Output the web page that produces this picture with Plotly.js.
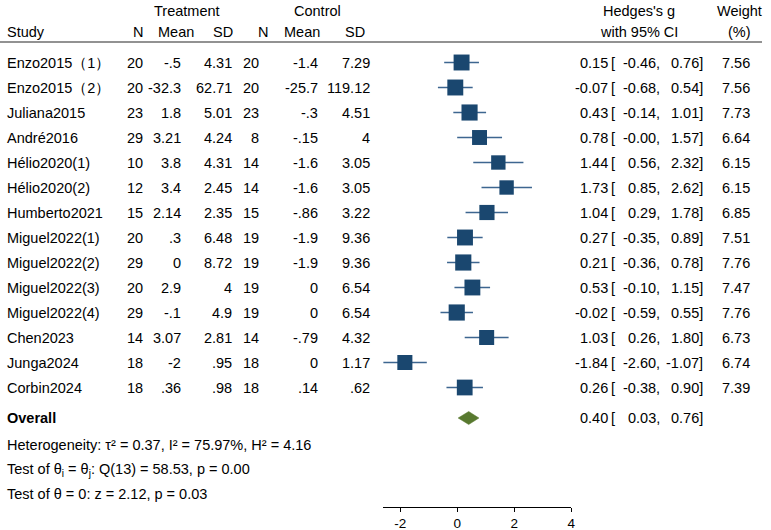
<!DOCTYPE html>
<html>
<head>
<meta charset="utf-8">
<script src="https://cdn.plot.ly/plotly-3.0.1.min.js"></script>
<style>html,body{margin:0;padding:0;background:#fff;}</style>
</head>
<body>
<div id="chart" style="width:771px;height:530px;"></div>
<script>
// ---- data ----
const studies = ["Enzo2015（1）","Enzo2015（2）","Juliana2015","André2016","Hélio2020(1)","Hélio2020(2)","Humberto2021","Miguel2022(1)","Miguel2022(2)","Miguel2022(3)","Miguel2022(4)","Chen2023","Junga2024","Corbin2024"];
const trtN    = ["20","20","23","29","10","12","15","20","29","20","29","14","18","18"];
const trtMean = ["-.5","-32.3","1.8","3.21","3.8","3.4","2.14",".3","0","2.9","-.1","3.07","-2",".36"];
const trtSD   = ["4.31","62.71","5.01","4.24","4.31","2.45","2.35","6.48","8.72","4","4.9","2.81",".95",".98"];
const ctlN    = ["20","20","23","8","14","14","15","19","19","19","19","14","18","18"];
const ctlMean = ["-1.4","-25.7","-.3","-.15","-1.6","-1.6","-.86","-1.9","-1.9","0","0","-.79","0",".14"];
const ctlSD   = ["7.29","119.12","4.51","4","3.05","3.05","3.22","9.36","9.36","6.54","6.54","4.32","1.17",".62"];
const effect  = [0.15,-0.07,0.43,0.78,1.44,1.73,1.04,0.27,0.21,0.53,-0.02,1.03,-1.84,0.26];
const ciLow   = [-0.46,-0.68,-0.14,-0.004,0.56,0.85,0.29,-0.35,-0.36,-0.10,-0.59,0.26,-2.60,-0.38];
const ciHigh  = [0.76,0.54,1.01,1.57,2.32,2.62,1.78,0.89,0.78,1.15,0.55,1.80,-1.07,0.90];
const weight  = [7.56,7.56,7.73,6.64,6.15,6.15,6.85,7.51,7.76,7.47,7.76,6.73,6.74,7.39];
const overallEffect = 0.40, overallLow = 0.03, overallHigh = 0.76;
const hetText = "Heterogeneity: τ² = 0.37, I² = 75.97%, H² = 4.16";
const qText = "Test of θ<sub>i</sub> = θ<sub>j</sub>: Q(13) = 58.53, p = 0.00";
const zText = "Test of θ = 0: z = 2.12, p = 0.03";
const tickVals = [-2,0,2,4];
const tickText = ["-2","0","2","4"];

// ---- layout helpers ----
const FONT = {family:"Liberation Sans, Arial, Helvetica, sans-serif", size:14.5, color:"#000"};
const rows = studies.map((_, i) => i);
const yOverall = 14.22, yHet = 15.3, yQ = 16.3, yZ = 17.26;
const yHead1 = -2.08, yHead2 = -1.22, yLine = -0.82;

const ann = [];
function addText(x, y, text, anchor, bold) {
  ann.push({xref:"x2", yref:"y", x:x, y:y, text: bold ? "<b>"+text+"</b>" : text,
    xanchor:anchor, yanchor:"middle", showarrow:false, borderpad:0, borderwidth:0,
    font:FONT});
}
// headers
addText(187, yHead1, "Treatment", "center");
addText(317, yHead1, "Control", "center");
addText(639, yHead1, "Hedges's g", "center");
addText(739, yHead1, "Weight", "center");
addText(7, yHead2, "Study", "left");
addText(138, yHead2, "N", "center");
addText(176, yHead2, "Mean", "center");
addText(223, yHead2, "SD", "center");
addText(263, yHead2, "N", "center");
addText(302, yHead2, "Mean", "center");
addText(355, yHead2, "SD", "center");
addText(639, yHead2, "with 95% CI", "center");
addText(739, yHead2, "(%)", "center");

const cols = [[trtN,143],[trtMean,181],[trtSD,232],[ctlN,259],[ctlMean,318],[ctlSD,370]];
rows.forEach(i => {
  addText(7, i, studies[i], "left");
  cols.forEach(([arr, x]) => addText(x, i, arr[i], "right"));
  addText(608, i, effect[i].toFixed(2), "right");
  addText(611, i, "[", "left");
  addText(660, i, ciLow[i].toFixed(2) + ",", "right");
  addText(703, i, ciHigh[i].toFixed(2) + "]", "right");
  addText(750, i, weight[i].toFixed(2), "right");
});
addText(7, yOverall, "Overall", "left", true);
addText(608, yOverall, overallEffect.toFixed(2), "right");
addText(611, yOverall, "[", "left");
addText(660, yOverall, overallLow.toFixed(2) + ",", "right");
addText(703, yOverall, overallHigh.toFixed(2) + "]", "right");
addText(7, yHet, hetText, "left");
addText(7, yQ, qText, "left");
addText(7, yZ, zText, "left");

// ---- traces ----
const studyTrace = {
  type:"scatter", mode:"markers", xaxis:"x", yaxis:"y",
  x: effect, y: rows,
  marker:{symbol:"square", color:"#1a476f", opacity:1, size: weight.map(w => 5.8*Math.sqrt(w)), line:{width:0}},
  error_x:{type:"data", symmetric:false,
    array: ciHigh.map((h,i) => h - effect[i]),
    arrayminus: ciLow.map((l,i) => effect[i] - l),
    width:0, thickness:1.3, color:"#3d6690"},
  hoverinfo:"skip", cliponaxis:false
};
const dh = 0.26;
const diamond = {
  type:"scatter", mode:"lines", xaxis:"x", yaxis:"y",
  x:[overallLow, overallEffect, overallHigh, overallEffect, overallLow],
  y:[yOverall, yOverall - dh, yOverall, yOverall + dh, yOverall],
  fill:"toself", fillcolor:"#58792f", line:{color:"#58792f", width:0.5},
  hoverinfo:"skip"
};

const layout = {
  width:771, height:530,
  margin:{l:0, r:0, t:0, b:0},
  paper_bgcolor:"#fff", plot_bgcolor:"rgba(0,0,0,0)",
  showlegend:false,
  font:FONT,
  xaxis:{domain:[383.2/771, 571.3/771], range:[-2.6, 4], anchor:"y",
    tickvals:tickVals, ticktext:tickText, ticks:"outside", ticklen:4, tickwidth:1, tickcolor:"#000",
    showline:true, linecolor:"#000", linewidth:1, zeroline:false, showgrid:false,
    tickfont:{family:FONT.family, size:13.5, color:"#000"}, fixedrange:true},
  xaxis2:{domain:[0,1], range:[0,771], anchor:"y", visible:false, fixedrange:true},
  yaxis:{domain:[23/530, 1], range:[17.78, -2.5], visible:false, fixedrange:true},
  shapes:[{type:"line", xref:"x2", yref:"y", x0:0, x1:762, y0:yLine, y1:yLine,
    line:{color:"#6e6e6e", width:1.5}}],
  annotations: ann
};

Plotly.newPlot("chart", [studyTrace, diamond], layout, {displayModeBar:false, staticPlot:true});
</script>
</body>
</html>
